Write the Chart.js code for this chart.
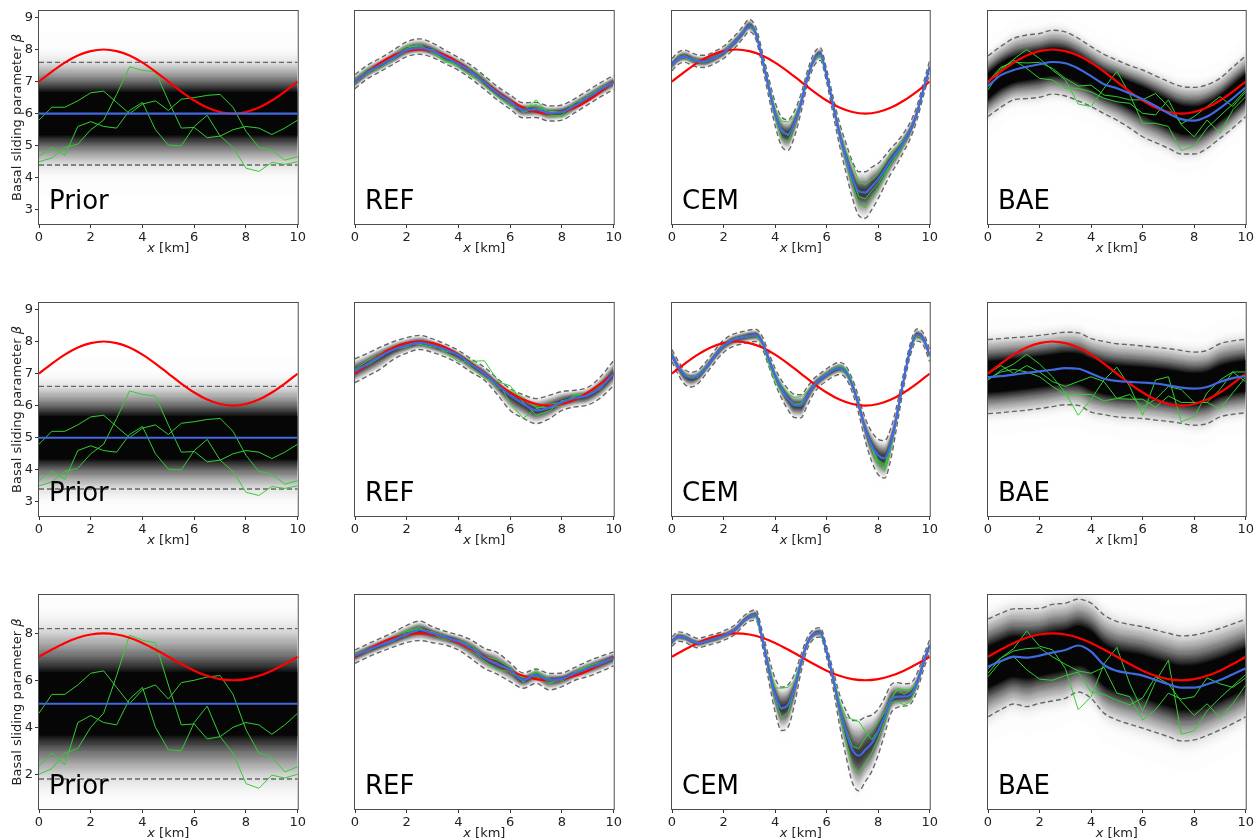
<!DOCTYPE html>
<html>
<head>
<meta charset="utf-8">
<title>Basal sliding parameter</title>
<script src="https://cdn.jsdelivr.net/npm/chart.js@4.4.1/dist/chart.umd.min.js"></script>
<style>
  html, body { margin: 0; padding: 0; background: #fff; }
  body { position: relative; width: 1255px; height: 840px; overflow: hidden; }
  canvas { position: absolute; }
</style>
</head>
<body>
<script>
// ---- axes
const xTicks = [0, 2, 4, 6, 8, 10];
const yTicksTop = [3, 4, 5, 6, 7, 8, 9];
const yTicksBottom = [2, 4, 6, 8];
const yRangeTop = [2.56, 9.2];
const yRangeBottom = [0.52, 9.63];

// ---- x grids
const xEnds = [0, 10];
const xHalf = [0,0.5,1,1.5,2,2.5,3,3.5,4,4.5,5,5.5,6,6.5,7,7.5,8,8.5,9,9.5,10];
const xQuarter = [0,0.25,0.5,0.75,1,1.25,1.5,1.75,2,2.25,2.5,2.75,3,3.25,3.5,3.75,4,4.25,4.5,4.75,5,5.25,5.5,5.75,6,6.25,6.5,6.75,7,7.25,7.5,7.75,8,8.25,8.5,8.75,9,9.25,9.5,9.75,10];

// true field (red), same in every panel
const truth = [7.0,7.31,7.59,7.81,7.95,8.0,7.95,7.81,7.59,7.31,7.0,6.69,6.41,6.19,6.05,6.0,6.05,6.19,6.41,6.69,7.0];

// ---- Prior
const priorMean1 = [6, 6], priorUpper1 = [7.6, 7.6], priorLower1 = [4.4, 4.4];
const priorMean2 = [5, 5], priorUpper2 = [6.6, 6.6], priorLower2 = [3.4, 3.4];
const priorMean3 = [5, 5], priorUpper3 = [8.2, 8.2], priorLower3 = [1.8, 1.8];
const prior1A = [5.8,6.2,6.2,6.4,6.65,6.7,6.35,6.0,6.3,6.4,6.1,6.45,6.5,6.57,6.6,6.2,5.45,4.95,4.87,4.55,4.66];
const prior1B = [4.5,4.62,4.95,5.05,5.5,5.8,6.6,7.46,7.35,7.3,6.4,5.55,5.57,5.25,5.3,5.5,5.6,5.55,5.35,5.55,5.8];
const prior1C = [4.67,4.95,4.7,5.6,5.75,5.6,5.55,6.1,6.35,5.5,5.02,5.0,5.6,5.95,5.3,4.95,4.3,4.2,4.48,4.42,4.5];
const prior2A = [4.8,5.2,5.2,5.4,5.65,5.7,5.35,5.0,5.3,5.4,5.1,5.45,5.5,5.57,5.6,5.2,4.45,3.95,3.87,3.55,3.66];
const prior2B = [3.5,3.62,3.95,4.05,4.5,4.8,5.6,6.46,6.35,6.3,5.4,4.55,4.57,4.25,4.3,4.5,4.6,4.55,4.35,4.55,4.8];
const prior2C = [3.67,3.95,3.7,4.6,4.75,4.6,4.55,5.1,5.35,4.5,4.02,4.0,4.6,4.95,4.3,3.95,3.3,3.2,3.48,3.42,3.5];
const prior3A = [4.6,5.4,5.4,5.8,6.3,6.4,5.7,5.0,5.6,5.8,5.2,5.9,6.0,6.14,6.2,5.4,3.9,2.9,2.74,2.1,2.32];
const prior3B = [2.0,2.24,2.9,3.1,4.0,4.6,6.2,7.92,7.7,7.6,5.8,4.1,4.14,3.5,3.6,4.0,4.2,4.1,3.7,4.1,4.6];
const prior3C = [2.34,2.9,2.4,4.2,4.5,4.2,4.1,5.2,5.7,4.0,3.04,3.0,4.2,4.9,3.6,2.9,1.6,1.4,1.96,1.84,2.0];

// ---- REF (mean, band half-widths above / below, sample offsets from the mean)
const refMean1 = [7.0,7.3,7.52,7.75,7.98,8.05,7.95,7.75,7.55,7.3,6.98,6.65,6.38,6.12,6.13,6.02,6.05,6.25,6.5,6.75,6.98];
const refUp1 = [0.22,0.22,0.22,0.24,0.26,0.28,0.25,0.22,0.2,0.2,0.2,0.2,0.2,0.22,0.22,0.22,0.22,0.22,0.22,0.22,0.22];
const refDn1 = [0.22,0.2,0.2,0.2,0.2,0.2,0.2,0.2,0.2,0.22,0.22,0.22,0.24,0.25,0.25,0.25,0.25,0.22,0.22,0.22,0.22];
const refDev1A = [0.05,0.1,0.0,0.05,0.12,0.05,0.0,-0.12,-0.05,0.1,0.15,0.0,-0.05,-0.05,0.3,-0.05,-0.15,-0.05,0.05,0.05,0.02];
const refDev1B = [-0.05,0.0,-0.08,-0.05,0.05,0.1,-0.05,-0.15,0.08,-0.05,-0.1,-0.12,-0.15,0.05,0.15,-0.1,-0.1,0.1,0.0,-0.05,-0.03];
const refDev1C = [0.0,-0.05,0.05,0.05,-0.05,-0.05,0.05,0.05,-0.1,-0.15,0.0,0.05,0.0,-0.08,0.05,0.05,0.0,0.0,0.05,0.0,0.0];

const refMean2 = [7.08,7.31,7.55,7.75,7.88,7.96,7.88,7.75,7.57,7.28,7.0,6.65,6.32,6.06,5.85,5.93,6.11,6.24,6.32,6.58,7.0];
const refUp2 = [0.38,0.33,0.28,0.25,0.24,0.23,0.2,0.17,0.15,0.17,0.2,0.2,0.21,0.28,0.37,0.39,0.33,0.24,0.25,0.33,0.41];
const refDn2 = [0.36,0.38,0.4,0.3,0.24,0.21,0.22,0.24,0.26,0.24,0.21,0.3,0.47,0.45,0.41,0.34,0.26,0.28,0.3,0.33,0.37];
const refDev2A = [0.05,0.1,0.05,0.1,0.05,0.02,0.0,-0.05,0.05,0.1,0.4,0.15,-0.25,-0.45,0.05,0.1,0.0,0.05,0.1,0.05,0.02];
const refDev2B = [-0.03,0.0,0.1,0.0,-0.05,0.05,0.08,-0.1,-0.2,0.1,0.0,-0.1,0.15,0.2,0.1,0.0,-0.1,0.1,0.0,-0.05,0.0];
const refDev2C = [0.0,-0.05,-0.03,0.05,0.08,-0.05,-0.05,0.05,0.05,-0.1,-0.15,0.1,0.3,0.05,-0.15,-0.1,0.05,-0.05,0.05,0.05,0.02];

const refMean3 = [7.05,7.29,7.5,7.72,7.96,8.14,8.0,7.82,7.65,7.36,6.96,6.68,6.44,6.01,6.23,6.01,6.06,6.3,6.51,6.72,6.96];
const refUp3 = [0.24,0.26,0.29,0.33,0.38,0.38,0.28,0.26,0.28,0.35,0.4,0.5,0.3,0.3,0.25,0.28,0.25,0.25,0.3,0.3,0.25];
const refDn3 = [0.33,0.3,0.28,0.3,0.35,0.45,0.4,0.32,0.36,0.45,0.45,0.42,0.5,0.35,0.36,0.42,0.33,0.3,0.35,0.35,0.34];
const refDev3A = [0.05,0.05,0.1,0.12,0.15,0.1,-0.05,-0.1,0.05,0.1,0.05,0.2,0.1,-0.1,0.2,-0.1,-0.05,0.05,0.1,0.05,0.0];
const refDev3B = [-0.05,0.05,0.0,-0.05,0.1,0.05,0.05,0.05,-0.1,-0.05,-0.15,-0.25,-0.05,0.1,-0.05,-0.15,0.0,0.0,-0.05,0.0,0.02];
const refDev3C = [0.0,-0.05,0.05,0.05,-0.05,0.0,0.05,-0.05,-0.05,-0.12,0.0,0.05,-0.1,-0.05,0.1,0.05,-0.1,0.05,0.05,-0.05,-0.02];

// ---- CEM (quarter-km grid)
const cemMean1 = [7.52,7.72,7.78,7.70,7.63,7.62,7.68,7.78,7.90,8.08,8.28,8.52,8.74,8.50,7.72,6.84,6.01,5.47,5.36,5.70,6.32,7.10,7.67,7.86,7.18,6.27,5.39,4.66,3.99,3.57,3.54,3.73,3.95,4.25,4.56,4.82,5.13,5.49,6.01,6.74,7.46];
const cemUp1 = [0.2,0.2,0.2,0.2,0.2,0.2,0.2,0.2,0.2,0.2,0.2,0.2,0.2,0.2,0.22,0.28,0.35,0.42,0.45,0.38,0.28,0.22,0.2,0.2,0.2,0.25,0.32,0.42,0.52,0.62,0.65,0.6,0.5,0.42,0.36,0.32,0.28,0.25,0.22,0.2,0.2];
const cemDn1 = [0.18,0.18,0.18,0.18,0.18,0.18,0.18,0.18,0.18,0.18,0.18,0.18,0.18,0.18,0.22,0.3,0.38,0.48,0.5,0.42,0.3,0.22,0.2,0.2,0.2,0.28,0.38,0.5,0.62,0.75,0.8,0.72,0.6,0.5,0.42,0.36,0.3,0.26,0.22,0.2,0.2];
const cemDev1A = [0.03,0.02,-0.03,-0.04,-0.02,0.0,0.02,0.03,0.04,0.05,0.03,0.02,0.0,-0.02,0.05,0.1,0.12,0.3,0.38,0.2,0.05,0.0,-0.03,0.0,0.02,0.03,0.05,0.15,0.45,0.3,0.25,0.2,0.18,0.18,0.25,0.15,0.05,0.02,0.0,-0.02,0.0];
const cemDev1B = [-0.03,-0.03,0.0,0.03,0.04,0.02,-0.02,-0.03,0.0,0.02,0.03,0.05,0.03,0.0,-0.05,-0.08,-0.1,-0.25,-0.22,-0.1,-0.03,0.0,0.02,0.0,-0.03,-0.05,-0.08,-0.12,-0.2,-0.4,-0.48,-0.4,-0.3,-0.2,-0.12,-0.05,-0.02,0.0,0.02,0.0,0.0];
const cemDev1C = [0.0,0.04,0.03,0.0,-0.03,-0.04,-0.02,0.0,0.02,-0.02,-0.03,0.0,0.02,0.03,0.0,0.02,0.03,0.05,-0.05,-0.03,0.0,0.02,0.0,-0.02,0.0,0.02,0.0,-0.03,-0.05,-0.15,-0.2,-0.12,-0.12,-0.1,-0.12,-0.12,-0.08,-0.03,0.0,0.02,0.0];

const cemMean2 = [7.57,7.2,6.94,6.86,6.92,7.12,7.38,7.64,7.86,8.0,8.08,8.13,8.18,8.2,7.98,7.46,6.94,6.53,6.22,6.01,6.0,6.3,6.62,6.82,6.97,7.1,7.17,7.05,6.63,6.01,5.28,4.76,4.45,4.36,4.87,5.8,6.84,7.77,8.21,8.09,7.57];
const cemUp2 = [0.18,0.18,0.18,0.18,0.18,0.18,0.18,0.18,0.18,0.18,0.18,0.18,0.18,0.18,0.18,0.2,0.22,0.26,0.3,0.34,0.34,0.28,0.22,0.18,0.18,0.18,0.18,0.18,0.2,0.25,0.32,0.42,0.5,0.55,0.45,0.3,0.22,0.18,0.18,0.18,0.18];
const cemDn2 = [0.2,0.24,0.28,0.28,0.24,0.2,0.2,0.2,0.2,0.2,0.2,0.2,0.2,0.2,0.2,0.22,0.25,0.3,0.35,0.38,0.38,0.3,0.24,0.2,0.2,0.2,0.2,0.2,0.22,0.28,0.38,0.5,0.6,0.62,0.5,0.32,0.22,0.2,0.2,0.2,0.2];
const cemDev2A = [0.02,0.0,-0.03,0.02,0.04,0.05,0.03,0.0,-0.02,0.0,0.02,0.03,0.0,-0.03,0.0,0.05,0.05,0.1,0.15,0.25,0.28,0.15,0.05,0.0,-0.02,0.0,0.03,0.05,0.0,-0.03,-0.05,-0.1,-0.15,-0.2,-0.1,0.0,0.02,0.0,-0.02,0.0,0.0];
const cemDev2B = [-0.02,0.03,0.04,0.0,-0.03,-0.04,0.0,0.03,0.05,0.03,0.0,-0.02,-0.03,0.0,-0.05,-0.15,-0.22,-0.1,-0.03,0.02,0.05,0.02,0.0,0.03,0.05,0.02,-0.02,-0.05,-0.02,0.0,0.0,-0.1,-0.3,-0.4,-0.2,-0.05,0.0,0.02,0.0,-0.02,0.0];
const cemDev2C = [0.0,-0.02,0.0,0.03,0.02,0.0,-0.03,-0.02,0.0,0.02,0.03,0.0,-0.02,0.02,0.03,0.0,-0.05,-0.03,0.0,0.05,0.05,0.0,-0.03,0.0,0.02,0.05,0.06,0.1,0.12,0.05,0.0,-0.08,-0.2,-0.28,-0.12,0.0,0.0,0.0,0.0,0.0,0.0];

const cemMean3 = [7.65,7.86,7.82,7.68,7.58,7.64,7.72,7.79,7.9,8.02,8.21,8.5,8.71,8.78,7.79,6.51,5.38,4.81,4.95,5.66,6.72,7.57,7.96,8.04,7.22,6.09,4.8,3.82,3.04,2.79,3.04,3.32,3.82,4.45,5.16,5.3,5.3,5.38,5.87,6.72,7.48];
const cemUp3 = [0.2,0.2,0.2,0.2,0.2,0.2,0.2,0.2,0.2,0.2,0.2,0.2,0.2,0.22,0.3,0.5,0.7,0.9,0.85,0.6,0.35,0.25,0.2,0.2,0.22,0.35,0.6,0.9,1.25,1.5,1.4,1.2,0.95,0.8,0.65,0.6,0.55,0.5,0.4,0.3,0.25];
const cemDn3 = [0.2,0.2,0.2,0.2,0.2,0.2,0.2,0.2,0.2,0.2,0.2,0.2,0.2,0.22,0.3,0.5,0.72,0.95,0.95,0.7,0.4,0.25,0.2,0.2,0.25,0.4,0.7,1.05,1.4,1.5,1.35,1.2,1.0,0.75,0.55,0.45,0.4,0.4,0.35,0.3,0.25];
const cemDev3A = [0.03,0.0,-0.03,0.0,0.04,0.03,0.0,-0.03,-0.05,-0.02,0.0,0.03,0.0,-0.03,0.05,0.15,0.3,0.85,0.75,0.3,0.1,0.03,0.0,-0.02,0.0,0.1,0.3,0.6,1.3,1.45,0.8,0.15,0.05,0.0,0.0,0.35,0.3,0.2,0.05,0.0,0.0];
const cemDev3B = [0.0,0.03,0.03,-0.02,-0.03,0.0,0.03,0.04,0.02,0.0,-0.02,0.0,0.03,0.02,-0.05,-0.1,-0.2,-0.4,-0.32,-0.1,0.0,0.0,0.02,0.0,-0.03,0.0,0.05,0.1,0.15,0.3,0.5,0.55,0.4,0.2,0.1,0.3,0.1,0.2,0.0,0.0,0.0];
const cemDev3C = [-0.02,0.0,0.02,0.03,0.0,-0.03,-0.02,0.0,0.03,0.02,0.0,-0.03,-0.02,0.0,0.0,0.0,-0.05,-0.05,0.0,0.05,0.0,-0.02,0.0,0.02,0.0,-0.1,-0.2,-0.4,-0.7,-0.75,-0.55,-0.4,-0.3,-0.2,-0.1,-0.2,-0.35,-0.3,-0.1,0.0,0.0];

// ---- BAE
const baeMean1 = [6.86,7.2,7.36,7.46,7.54,7.61,7.57,7.41,7.17,6.92,6.79,6.63,6.45,6.24,6.01,5.83,5.78,5.91,6.17,6.48,6.82];
const baeUpper1 = [7.8,8.1,8.35,8.45,8.5,8.6,8.55,8.35,8.09,7.85,7.67,7.5,7.36,7.18,7.0,6.85,6.82,6.9,7.1,7.45,7.8];
const baeLower1 = [5.91,6.2,6.43,6.47,6.51,6.61,6.55,6.4,6.22,6.0,5.8,5.55,5.28,5.1,4.92,4.74,4.74,4.92,5.23,5.55,5.91];
const bae1A = [6.74,7.35,7.7,8.0,7.72,7.36,7.05,6.3,6.22,6.79,7.32,6.6,5.7,5.7,5.6,4.85,5.0,5.55,5.93,6.3,6.74];
const bae1B = [7.0,7.45,7.6,7.58,7.6,7.41,7.1,6.86,6.89,6.58,6.53,6.43,6.43,6.63,6.22,5.68,5.91,6.22,6.53,6.22,6.68];
const bae1C = [6.94,7.41,7.67,7.41,7.1,7.05,6.79,6.79,6.68,6.48,6.37,6.32,6.01,5.96,6.43,5.65,5.28,5.8,5.39,6.12,6.53];

const baeMean2 = [6.89,6.92,6.97,7.02,7.07,7.12,7.17,7.15,7.0,6.84,6.77,6.74,6.72,6.69,6.63,6.56,6.53,6.58,6.74,6.86,6.92];
const baeUpper2 = [8.06,8.09,8.12,8.15,8.19,8.24,8.29,8.27,8.09,8.0,7.93,7.9,7.86,7.82,7.78,7.72,7.67,7.72,7.93,8.02,8.07];
const baeLower2 = [5.75,5.78,5.82,5.86,5.91,5.97,6.03,6.01,5.8,5.72,5.65,5.62,5.6,5.55,5.51,5.45,5.39,5.44,5.65,5.73,5.78];
const bae2A = [6.8,7.1,7.3,7.6,7.3,6.9,6.4,5.7,6.2,6.8,7.2,6.6,5.7,6.8,6.9,5.5,5.65,6.4,6.8,7.05,7.05];
const bae2B = [6.82,7.05,7.13,7.05,6.9,6.6,6.35,6.35,6.35,6.15,6.22,6.35,5.95,6.2,6.6,6.5,6.1,6.1,6.5,7.05,6.74];
const bae2C = [7.0,7.25,7.0,7.25,7.05,6.75,6.6,6.75,6.9,6.75,6.22,6.2,6.2,5.95,6.3,6.1,6.1,6.1,5.9,6.4,6.89];

const baeMean3 = [6.58,6.82,7.01,6.96,7.05,7.18,7.29,7.48,7.22,6.65,6.4,6.3,6.2,6.01,5.83,5.69,5.69,5.83,6.01,6.26,6.51];
const baeUpper3 = [8.61,8.85,9.04,9.05,9.06,9.23,9.28,9.45,9.28,8.78,8.5,8.38,8.28,8.14,8.0,7.89,7.93,8.05,8.21,8.4,8.6];
const baeLower3 = [4.45,4.75,4.99,4.88,5.02,5.12,5.23,5.5,5.23,4.6,4.31,4.13,3.96,3.78,3.6,3.42,3.46,3.65,3.89,4.15,4.45];
const bae3A = [6.3,6.95,7.35,8.1,7.45,7.3,6.5,4.75,5.3,6.7,7.4,5.85,4.7,5.95,6.85,3.7,3.85,4.7,5.25,5.75,6.25];
const bae3B = [6.5,6.95,7.25,7.35,7.38,7.0,6.68,6.4,6.3,6.55,5.45,5.3,4.3,4.75,5.45,5.2,5.3,6.1,5.85,5.7,6.1];
const bae3C = [6.15,6.8,7.0,6.45,6.05,6.0,6.2,6.35,5.5,5.4,5.15,4.95,5.25,6.15,5.85,5.1,4.5,5.0,4.4,5.0,5.8];

// ------------------------------------------------------------------
const FONT = '"DejaVu Sans", "Liberation Sans", sans-serif';
const colLeft = [39, 355, 672, 988];
const colWidth = [259, 259, 258, 258];
const rowTop = [11, 303, 595];
const rowHeight = [213, 213, 214];
const padT = 10, padR = 10, padB = 40, padLOther = 10, padLFirst = 39;

function pts(xs, ys) { return xs.map((x, i) => ({ x: x, y: ys[i] })); }
function shift(base, d, sign) { return base.map((v, i) => v + sign * d[i]); }

const darkShade = 1.4, greyShade = 0.85;
const panels = [
  { name: 'Prior', row: 0, col: 0, x: xEnds, mean: priorMean1, upper: priorUpper1, lower: priorLower1, sx: xHalf, samples: [prior1A, prior1B, prior1C], shade: darkShade },
  { name: 'REF', row: 0, col: 1, x: xHalf, mean: refMean1, upper: shift(refMean1, refUp1, 1), lower: shift(refMean1, refDn1, -1), sx: xHalf, samples: [refDev1A, refDev1B, refDev1C].map(d => shift(refMean1, d, 1)), shade: greyShade },
  { name: 'CEM', row: 0, col: 2, x: xQuarter, mean: cemMean1, upper: shift(cemMean1, cemUp1, 1), lower: shift(cemMean1, cemDn1, -1), sx: xQuarter, samples: [cemDev1A, cemDev1B, cemDev1C].map(d => shift(cemMean1, d, 1)), shade: greyShade },
  { name: 'BAE', row: 0, col: 3, x: xHalf, mean: baeMean1, upper: baeUpper1, lower: baeLower1, sx: xHalf, samples: [bae1A, bae1B, bae1C], shade: darkShade },
  { name: 'Prior', row: 1, col: 0, x: xEnds, mean: priorMean2, upper: priorUpper2, lower: priorLower2, sx: xHalf, samples: [prior2A, prior2B, prior2C], shade: darkShade },
  { name: 'REF', row: 1, col: 1, x: xHalf, mean: refMean2, upper: shift(refMean2, refUp2, 1), lower: shift(refMean2, refDn2, -1), sx: xHalf, samples: [refDev2A, refDev2B, refDev2C].map(d => shift(refMean2, d, 1)), shade: greyShade },
  { name: 'CEM', row: 1, col: 2, x: xQuarter, mean: cemMean2, upper: shift(cemMean2, cemUp2, 1), lower: shift(cemMean2, cemDn2, -1), sx: xQuarter, samples: [cemDev2A, cemDev2B, cemDev2C].map(d => shift(cemMean2, d, 1)), shade: greyShade },
  { name: 'BAE', row: 1, col: 3, x: xHalf, mean: baeMean2, upper: baeUpper2, lower: baeLower2, sx: xHalf, samples: [bae2A, bae2B, bae2C], shade: darkShade },
  { name: 'Prior', row: 2, col: 0, x: xEnds, mean: priorMean3, upper: priorUpper3, lower: priorLower3, sx: xHalf, samples: [prior3A, prior3B, prior3C], shade: darkShade },
  { name: 'REF', row: 2, col: 1, x: xHalf, mean: refMean3, upper: shift(refMean3, refUp3, 1), lower: shift(refMean3, refDn3, -1), sx: xHalf, samples: [refDev3A, refDev3B, refDev3C].map(d => shift(refMean3, d, 1)), shade: greyShade },
  { name: 'CEM', row: 2, col: 2, x: xQuarter, mean: cemMean3, upper: shift(cemMean3, cemUp3, 1), lower: shift(cemMean3, cemDn3, -1), sx: xQuarter, samples: [cemDev3A, cemDev3B, cemDev3C].map(d => shift(cemMean3, d, 1)), shade: greyShade },
  { name: 'BAE', row: 2, col: 3, x: xHalf, mean: baeMean3, upper: baeUpper3, lower: baeLower3, sx: xHalf, samples: [bae3A, bae3B, bae3C], shade: darkShade }
];

// density shading: nested bands around the mean, stacked alpha gives a gaussian-ish fade
const bandSteps = 64, bandMax = 1.6;
function bandAlphas(c) {
  const T = [];
  for (let i = 1; i <= bandSteps; i++) {
    const d = (i - 0.5) * bandMax / bandSteps;
    T[i] = Math.min(0.995, c * Math.exp(-2 * d * d));
  }
  T[bandSteps + 1] = 0;
  const a = [];
  for (let i = 1; i <= bandSteps; i++) a[i] = Math.max(0, 1 - (1 - T[i]) / (1 - T[i + 1]));
  return a;
}

function buildDatasets(p) {
  const ds = [];
  const smooth = { cubicInterpolationMode: 'monotone', pointRadius: 0 };
  ds.push(Object.assign({ data: pts(p.x, p.mean), borderColor: '#4169e1', borderWidth: 2.2, fill: false, order: 0 }, smooth));
  ds.push(Object.assign({ data: pts(xHalf, truth), borderColor: '#ff0000', borderWidth: 2.2, fill: false, order: 1 }, smooth));
  p.samples.forEach(s => {
    ds.push({ data: pts(p.sx, s), borderColor: '#32cd32', borderWidth: 1, pointRadius: 0, tension: 0, fill: false, order: 2 });
  });
  [p.upper, p.lower].forEach(b => {
    ds.push(Object.assign({ data: pts(p.x, b), borderColor: '#666666', borderWidth: 1.4, borderDash: [5, 3], fill: false, order: 3 }, smooth));
  });
  const alphas = bandAlphas(p.shade);
  for (let i = bandSteps; i >= 1; i--) {
    if (alphas[i] <= 0) continue;
    const k = i * bandMax / bandSteps;
    const up = p.mean.map((m, j) => m + k * (p.upper[j] - m));
    const lo = p.mean.map((m, j) => m - k * (m - p.lower[j]));
    ds.push(Object.assign({ data: pts(p.x, up), borderWidth: 0, borderColor: 'rgba(0,0,0,0)', fill: '+1', backgroundColor: 'rgba(0,0,0,' + alphas[i].toFixed(4) + ')', order: 10 }, smooth));
    ds.push(Object.assign({ data: pts(p.x, lo), borderWidth: 0, borderColor: 'rgba(0,0,0,0)', fill: false, order: 10 }, smooth));
  }
  return ds;
}

function drawMixed(ctx, parts, cx, cy, size) {
  let total = 0;
  parts.forEach(pt => { ctx.font = pt[0] + ' ' + size + 'px ' + FONT; total += ctx.measureText(pt[1]).width; });
  let x = cx - total / 2;
  ctx.textAlign = 'left';
  ctx.textBaseline = 'middle';
  parts.forEach(pt => {
    ctx.font = pt[0] + ' ' + size + 'px ' + FONT;
    ctx.fillText(pt[1], x, cy);
    x += ctx.measureText(pt[1]).width;
  });
}

function makeDecor(p) {
  return {
    id: 'decor',
    afterDraw(chart) {
      const ctx = chart.ctx, a = chart.chartArea;
      ctx.save();
      ctx.strokeStyle = '#4d4d4d';
      ctx.lineWidth = 1;
      ctx.strokeRect(a.left - 0.5, a.top - 0.5, a.right - a.left + 1, a.bottom - a.top + 1);
      ctx.fillStyle = '#000';
      ctx.font = '26px ' + FONT;
      ctx.textAlign = 'left';
      ctx.textBaseline = 'alphabetic';
      ctx.fillText(p.name, a.left + 10, a.bottom - 15);
      ctx.fillStyle = '#222';
      drawMixed(ctx, [['italic', 'x'], ['normal', ' [km]']], (a.left + a.right) / 2, a.bottom + 25, 13);
      if (p.col === 0) {
        ctx.translate(17.5, (a.top + a.bottom) / 2);
        ctx.rotate(-Math.PI / 2);
        drawMixed(ctx, [['normal', 'Basal sliding parameter '], ['italic', 'β']], 0, 0, 13);
      }
      ctx.restore();
    }
  };
}

panels.forEach(p => {
  const padL = p.col === 0 ? padLFirst : padLOther;
  const w = padL + colWidth[p.col] + padR;
  const h = padT + rowHeight[p.row] + padB;
  const cv = document.createElement('canvas');
  cv.width = w; cv.height = h;
  cv.style.left = (colLeft[p.col] - padL) + 'px';
  cv.style.top = (rowTop[p.row] - padT) + 'px';
  cv.style.width = w + 'px'; cv.style.height = h + 'px';
  document.body.appendChild(cv);

  const yr = p.row < 2 ? yRangeTop : yRangeBottom;
  const yt = p.row < 2 ? yTicksTop : yTicksBottom;
  const tickFont = { family: FONT, size: 13 };

  new Chart(cv.getContext('2d'), {
    type: 'line',
    data: { datasets: buildDatasets(p) },
    options: {
      responsive: false,
      animation: false,
      devicePixelRatio: 1,
      events: [],
      layout: { padding: { left: p.col === 0 ? 0 : padLOther, top: padT, right: padR, bottom: 0 } },
      plugins: {
        legend: { display: false },
        tooltip: { enabled: false },
        filler: { drawTime: 'beforeDatasetsDraw', propagate: false }
      },
      scales: {
        x: {
          type: 'linear', min: 0, max: 10,
          afterBuildTicks: s => { s.ticks = xTicks.map(v => ({ value: v })); },
          afterFit: s => { s.height = padB; },
          ticks: { font: tickFont, color: '#222', padding: 2, maxRotation: 0, autoSkip: false },
          grid: { drawOnChartArea: false, drawTicks: true, tickLength: 4, tickColor: '#333', color: '#333' },
          border: { display: false }
        },
        y: {
          type: 'linear', min: yr[0], max: yr[1],
          display: p.col === 0,
          afterBuildTicks: s => { s.ticks = yt.map(v => ({ value: v })); },
          afterFit: s => { s.width = p.col === 0 ? padLFirst : 0; },
          ticks: { font: tickFont, color: '#222', padding: 2, autoSkip: false },
          grid: { drawOnChartArea: false, drawTicks: true, tickLength: 4, tickColor: '#333', color: '#333' },
          border: { display: false }
        }
      }
    },
    plugins: [makeDecor(p)]
  });
});
</script>
</body>
</html>
